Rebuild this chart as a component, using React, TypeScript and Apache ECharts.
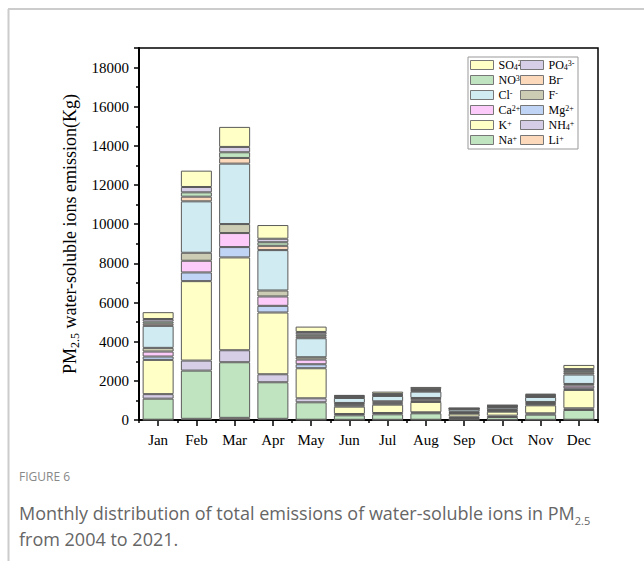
import React, { useEffect, useRef } from "react";
import * as echarts from "echarts";

const months = ["Jan", "Feb", "Mar", "Apr", "May", "Jun", "Jul", "Aug", "Sep", "Oct", "Nov", "Dec"];

// Stack order bottom -> top
const li = [15, 60, 110, 60, 15, 10, 10, 12, 5, 5, 8, 15];
const na = [1075, 2463, 2840, 1867, 889, 229, 280, 329, 97, 148, 265, 497];
const nh4 = [230, 512, 613, 409, 204, 68, 68, 51, 68, 69, 68, 85];
const k = [1750, 4058, 4740, 3154, 1535, 375, 426, 529, 154, 204, 409, 938];
const mg = [171, 443, 529, 341, 204, 68, 60, 68, 34, 40, 57, 85];
const ca = [255, 597, 716, 478, 239, 51, 50, 68, 34, 40, 57, 136];
const f = [188, 409, 460, 306, 119, 69, 61, 68, 34, 40, 57, 85];
const cl = [1125, 2626, 3086, 2063, 972, 255, 273, 324, 120, 119, 255, 480];
const br = [110, 238, 290, 220, 100, 35, 34, 45, 17, 25, 34, 90];
const no3 = [110, 222, 290, 180, 100, 35, 34, 46, 17, 25, 34, 100];
const po4 = [130, 273, 273, 180, 120, 35, 34, 46, 17, 25, 35, 90];
const so4 = [349, 835, 1023, 700, 273, 49, 119, 102, 17, 27, 68, 212];

const yTicks = [0, 2000, 4000, 6000, 8000, 10000, 12000, 14000, 16000, 18000];

const PEACH = "#FDD9BC";
const GREEN = "#C0E4C0";
const LAV = "#D6CDE6";
const YEL = "#FFFFC6";
const BLUE = "#C0D4F5";
const PINK = "#FDCBF9";
const OLIVE = "#CBCCB3";
const CYAN = "#D0EBF1";

const ions = [
  { name: "Li+", data: li, color: PEACH },
  { name: "Na+", data: na, color: GREEN },
  { name: "NH4+", data: nh4, color: LAV },
  { name: "K+", data: k, color: YEL },
  { name: "Mg2+", data: mg, color: BLUE },
  { name: "Ca2+", data: ca, color: PINK },
  { name: "F-", data: f, color: OLIVE },
  { name: "Cl-", data: cl, color: CYAN },
  { name: "Br-", data: br, color: PEACH },
  { name: "NO3-", data: no3, color: GREEN },
  { name: "PO43-", data: po4, color: LAV },
  { name: "SO42-", data: so4, color: YEL },
];

const legendLeft = ["SO42-", "NO3-", "Cl-", "Ca2+", "K+", "Na+"];
const legendRight = ["PO43-", "Br-", "F-", "Mg2+", "NH4+", "Li+"];

const legendLabels: Record<string, string> = {
  "SO42-": "SO{sub|4}{sup|2-}",
  "PO43-": "PO{sub|4}{sup|3-}",
  "NO3-": "NO{sup|3-}",
  "Br-": "Br{sup|-}",
  "Cl-": "Cl{sup|-}",
  "F-": "F{sup|-}",
  "Ca2+": "Ca{sup|2+}",
  "Mg2+": "Mg{sup|2+}",
  "K+": "K{sup|+}",
  "NH4+": "NH{sub|4}{sup|+}",
  "Na+": "Na{sup|+}",
  "Li+": "Li{sup|+}",
};

const SERIF = "'Liberation Serif', 'Times New Roman', serif";
const SANS = "'Open Sans', sans-serif";

export default function App() {
  const ref = useRef<HTMLDivElement>(null);

  useEffect(() => {
    if (!ref.current) return;
    const chart = echarts.init(ref.current, null, { renderer: "svg" });

    const legendText = {
      fontFamily: SERIF,
      fontSize: 12,
      color: "#000",
      lineHeight: 12,
      rich: {
        sup: { fontFamily: SERIF, fontSize: 8, verticalAlign: "top", lineHeight: 12, color: "#000" },
        sub: { fontFamily: SERIF, fontSize: 8, verticalAlign: "bottom", lineHeight: 12, color: "#000" },
      },
    };

    const mkLegend = (data: string[], left: number) => ({
      data,
      orient: "vertical",
      left,
      top: 59,
      itemWidth: 23,
      itemHeight: 9,
      itemGap: 3,
      padding: 0,
      icon: "rect",
      selectedMode: false,
      itemStyle: { borderColor: "#777", borderWidth: 1 },
      textStyle: legendText,
      formatter: (name: string) => legendLabels[name] || name,
      z: 5,
    });

    const option: any = {
      animation: false,
      backgroundColor: "#fff",
      grid: {
        left: 139,
        right: 46,
        top: 48,
        bottom: 141,
        show: true,
        borderColor: "#000",
        borderWidth: 1.5,
        containLabel: false,
      },
      legend: [mkLegend(legendLeft, 470), mkLegend(legendRight, 520)],
      xAxis: [
        {
          type: "category",
          data: months,
          position: "bottom",
          axisLine: { show: true, lineStyle: { color: "#000", width: 2 } },
          axisTick: { show: true, alignWithLabel: true, length: 6, lineStyle: { color: "#000", width: 1.5 } },
          axisLabel: { fontFamily: SERIF, fontSize: 15, color: "#000", margin: 12 },
        },
        {
          type: "category",
          data: months,
          position: "bottom",
          offset: 0,
          axisLine: { show: false },
          axisTick: { show: true, alignWithLabel: false, length: 3, lineStyle: { color: "#000", width: 1.5 } },
          axisLabel: { show: false },
        },
      ],
      yAxis: {
        type: "value",
        min: 0,
        max: 19000,
        interval: 2000,
        name: "PM{sub|2.5} water-soluble ions emission(Kg)",
        nameLocation: "middle",
        nameRotate: 90,
        nameGap: 57,
        nameTextStyle: {
          fontFamily: SERIF,
          fontSize: 18,
          color: "#000",
          rich: {
            sub: { fontFamily: SERIF, fontSize: 12, color: "#000", verticalAlign: "bottom", lineHeight: 22 },
          },
          lineHeight: 22,
        },
        axisLine: { show: true, lineStyle: { color: "#000", width: 2 } },
        axisTick: { show: true, inside: false, length: 5, lineStyle: { color: "#000", width: 1.5 } },
        minorTick: { show: true, splitNumber: 2, length: 3, lineStyle: { color: "#000", width: 1.5 } },
        splitLine: { show: false },
        axisLabel: {
          fontFamily: SERIF,
          fontSize: 15,
          color: "#000",
          margin: 10,
          formatter: (v: number) => (yTicks.indexOf(v) >= 0 ? String(v) : ""),
        },
      },
      series: ions.map((s) => ({
        type: "bar",
        name: s.name,
        stack: "total",
        data: s.data,
        barWidth: 31,
        itemStyle: { color: s.color, borderColor: "#5a5a5a", borderWidth: 1 },
        emphasis: { disabled: true },
        z: 2,
      })),
      graphic: [
        {
          type: "rect",
          shape: { x: 468, y: 57, width: 110, height: 92 },
          style: { fill: "#fff", stroke: "#999", lineWidth: 1 },
          z: 3,
        },
        {
          type: "line",
          shape: { x1: 8, y1: 9, x2: 644, y2: 9 },
          style: { stroke: "#bbb", lineWidth: 1.5 },
        },
        {
          type: "line",
          shape: { x1: 8.5, y1: 9, x2: 8.5, y2: 561 },
          style: { stroke: "#ccc", lineWidth: 2 },
        },
        {
          type: "text",
          x: 19,
          y: 470,
          style: { text: "FIGURE 6", font: `12px ${SANS}`, fill: "#888" },
        },
        {
          type: "text",
          x: 19,
          y: 500,
          style: {
            text: "Monthly distribution of total emissions of water-soluble ions in PM{sub|2.5}",
            fontFamily: SANS,
            fontSize: 18,
            fill: "#666",
            lineHeight: 26,
            rich: {
              sub: { fontFamily: SANS, fontSize: 11, fill: "#666", verticalAlign: "bottom", lineHeight: 24 },
            },
          },
        },
        {
          type: "text",
          x: 19,
          y: 530,
          style: {
            text: "from 2004 to 2021.",
            fontFamily: SANS,
            fontSize: 18,
            fill: "#666",
          },
        },
      ],
    };

    chart.setOption(option);
    return () => chart.dispose();
  }, []);

  return (
    <div
      ref={ref}
      style={{ position: "fixed", left: 0, top: 0, width: 644, height: 561, background: "#fff" }}
    />
  );
}
